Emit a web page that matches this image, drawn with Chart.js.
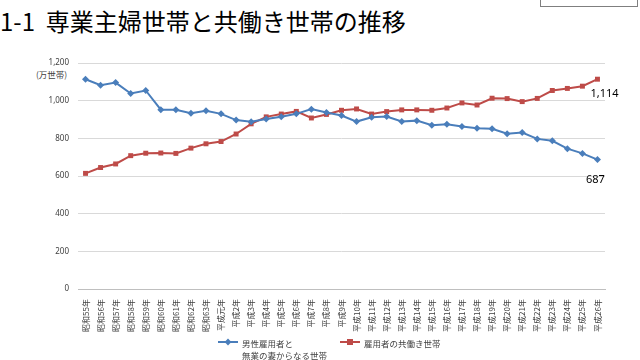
<!DOCTYPE html>
<html>
<head>
<meta charset="utf-8">
<script src="https://cdn.jsdelivr.net/npm/chart.js@4"></script>
<style>
  body { margin: 0; background: #fff; font-family: "Noto Sans CJK JP", "Noto Sans", sans-serif; }
  #wrap { position: relative; width: 640px; height: 360px; overflow: hidden; }
  #chart { position: absolute; left: 0; top: 0; }
  .title { position: absolute; left: 0; top: 3px; font-size: 24px; color: #000; white-space: nowrap; }
  .box { position: absolute; left: 540px; top: -3px; width: 96px; height: 8px; border: 1px solid #7f7f7f; }
  .unit { position: absolute; left: 36px; top: 68px; font-size: 8.5px; color: #404040; }
  .legend { position: absolute; top: 337px; font-size: 8.5px; color: #404040; line-height: 12px; }
  .mk { position: absolute; top: 4px; width: 20px; height: 2px; }
  .mk i { position: absolute; left: 7px; top: -2.5px; width: 6px; height: 6px; }
</style>
</head>
<body>
<div id="wrap">
  <div class="title">1-1&nbsp;&nbsp;専業主婦世帯と共働き世帯の推移</div>
  <div class="box"></div>
  <div class="unit">(万世帯)</div>
  <canvas id="chart" width="640" height="360"></canvas>
  <div class="legend" style="left:218px">
    <span class="mk" style="background:#4a7ebb"><i style="background:#4a7ebb;transform:rotate(45deg) scale(0.8)"></i></span>
    <div style="margin-left:24px" id="lab0"></div>
  </div>
  <div class="legend" style="left:340px">
    <span class="mk" style="background:#be4b48"><i style="background:#be4b48"></i></span>
    <div style="margin-left:24px" id="lab1"></div>
  </div>
</div>
<script>
// 年次ラベル
var years = ['昭和55年','昭和56年','昭和57年','昭和58年','昭和59年','昭和60年','昭和61年','昭和62年','昭和63年',
  '平成元年','平成2年','平成3年','平成4年','平成5年','平成6年','平成7年','平成8年','平成9年','平成10年',
  '平成11年','平成12年','平成13年','平成14年','平成15年','平成16年','平成17年','平成18年','平成19年',
  '平成20年','平成21年','平成22年','平成23年','平成24年','平成25年','平成26年'];

var housewife = [1114,1082,1096,1038,1054,952,952,933,946,930,897,888,903,915,930,955,937,921,889,
  912,916,890,894,870,875,863,854,851,825,831,797,787,745,720,687];
var dualIncome = [614,645,664,708,721,722,720,748,771,783,823,877,914,929,943,908,927,949,956,
  929,942,951,951,949,961,988,977,1013,1011,995,1012,1054,1065,1077,1114];

var seriesLabels = [['男性雇用者と', '無業の妻からなる世帯'], '雇用者の共働き世帯'];
var yTicks = [0, 200, 400, 600, 800, 1000, 1200];

document.getElementById('lab0').innerHTML = seriesLabels[0].join('<br>');
document.getElementById('lab1').innerHTML = seriesLabels[1];

// 最後の値を表示
var endLabels = {
  id: 'endLabels',
  afterDatasetsDraw: function(chart) {
    var ctx = chart.ctx;
    ctx.save();
    ctx.font = '11px "Noto Sans", sans-serif';
    ctx.fillStyle = '#000';
    ctx.textBaseline = 'middle';
    var m1 = chart.getDatasetMeta(1), m0 = chart.getDatasetMeta(0);
    var p1 = m1.data[m1.data.length - 1], p0 = m0.data[m0.data.length - 1];
    ctx.textAlign = 'left';
    ctx.fillText(dualIncome[dualIncome.length - 1].toLocaleString('en-US'), p1.x - 7, p1.y + 15);
    ctx.textAlign = 'center';
    ctx.fillText(housewife[housewife.length - 1].toLocaleString('en-US'), p0.x - 2, p0.y + 20);
    ctx.restore();
  }
};

var ctx = document.getElementById('chart').getContext('2d');
var myChart = new Chart(ctx, {
  type: 'line',
  data: {
    labels: years,
    datasets: [{
      label: seriesLabels[0].join(''),
      data: housewife,
      borderColor: '#4a7ebb',
      backgroundColor: '#4a7ebb',
      borderWidth: 2,
      pointStyle: 'rectRot',
      pointRadius: 3.5,
      pointBorderWidth: 0,
      tension: 0
    }, {
      label: seriesLabels[1],
      data: dualIncome,
      borderColor: '#be4b48',
      backgroundColor: '#be4b48',
      borderWidth: 2,
      pointStyle: 'rect',
      pointRadius: 3.5,
      pointBorderWidth: 0,
      tension: 0
    }]
  },
  options: {
    responsive: false,
    animation: false,
    layout: { padding: { left: 40, top: 63, right: 35, bottom: 0 } },
    plugins: { legend: { display: false }, tooltip: { enabled: false } },
    scales: {
      x: {
        offset: true,
        grid: { display: false },
        border: { color: '#bfbfbf' },
        ticks: { autoSkip: false, minRotation: 90, maxRotation: 90, color: '#404040', font: { size: 8, family: '"Noto Sans CJK JP", sans-serif' }, padding: 2 },
        afterFit: function(s) { s.height = 71; }
      },
      y: {
        min: 0, max: 1200,
        afterBuildTicks: function(s) { s.ticks = yTicks.map(function(v) { return { value: v }; }); },
        grid: { color: '#d9d9d9', drawTicks: false },
        border: { display: false },
        ticks: { color: '#404040', font: { size: 8, family: '"Noto Sans", sans-serif' }, padding: 9,
          callback: function(v) { return v.toLocaleString('en-US'); } },
        afterFit: function(s) { s.width = 38; }
      }
    }
  },
  plugins: [endLabels]
});
</script>
</body>
</html>
